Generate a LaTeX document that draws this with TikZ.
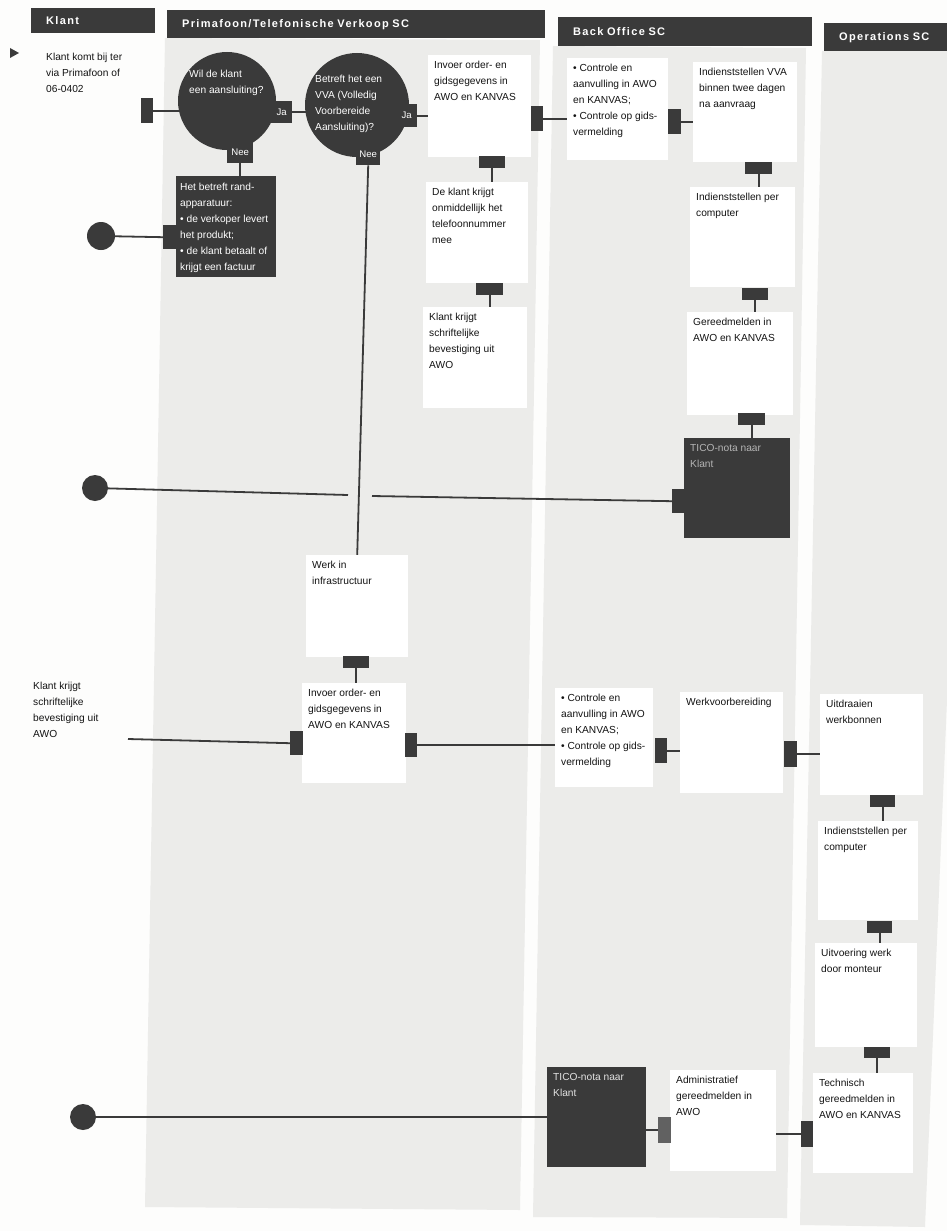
\documentclass[tikz,border=0pt]{standalone}
\usepackage{fontspec}
\setmainfont{Liberation Sans}
\newfontfamily\headfont[LetterSpace=12]{Liberation Sans}
\usetikzlibrary{calc}
\pgfdeclarelayer{wires}
\pgfsetlayers{wires,main}

\definecolor{ink}{HTML}{3A3A3A}
\definecolor{lane}{HTML}{ECECEA}
\definecolor{paper}{HTML}{FDFDFC}
\definecolor{txt}{HTML}{141414}
\definecolor{ghost}{HTML}{B4B4B4}
\definecolor{pale}{HTML}{E2E2E2}

% fixed-size text block: width, height, lines separated by \\
\newcommand{\cell}[3]{\vbox to #2pt{\hbox to #1pt{\begin{tabular}[t]{@{}l@{}}#3\end{tabular}\hss}\vss}}

\tikzset{
  base font/.style={font=\fontsize{10.2}{16}\selectfont},
  wbox/.style={base font, fill=white, text=txt, anchor=north west, inner xsep=6pt, inner ysep=2pt},
  dbox/.style={wbox, fill=ink, text=white, inner xsep=4pt, inner ysep=3pt},
  tico/.style={wbox, fill=ink, text=ghost},
  plain/.style={base font, text=txt, anchor=north west, inner sep=0pt},
  onink/.style={plain, text=white},
  tabv/.style={fill=ink, anchor=north west, inner sep=0pt, minimum width=12pt, minimum height=25pt},
  tabh/.style={fill=ink, anchor=north west, inner sep=0pt, minimum width=26pt, minimum height=12pt},
  flag/.style={fill=ink, anchor=north west, inner sep=0pt, text=white, font=\fontsize{9.6}{10}\selectfont},
  question/.style={circle, fill=ink, inner sep=0pt},
  terminal/.style={circle, fill=ink, inner sep=0pt, minimum size=26pt},
  wire/.style={draw=ink, line width=1.8pt},
  header/.style={fill=ink, text=white, anchor=north west, inner xsep=15pt, inner ysep=0pt,
    align=left, font=\headfont\bfseries\fontsize{11}{13}\selectfont},
}

\begin{document}
\begin{tikzpicture}[x=1pt,y=-1pt]
\useasboundingbox (0,0) rectangle (947,1231);

\begin{pgfonlayer}{wires}
  \fill[paper] (0,0) rectangle (947,1231);
  % swimlanes
  \fill[lane] (165,38) -- (540,40) -- (520,1210) -- (145,1207) -- cycle;
  \fill[lane] (553,46) -- (806,48) -- (787,1218) -- (533,1217) -- cycle;
  \fill[lane] (822,51) -- (947,51) -- (947,700) -- (925,1227) -- (800,1225) -- cycle;
\end{pgfonlayer}

% lane headers
\node[header, minimum width=124pt, minimum height=25pt, text width=94pt] (hK) at (31,8) {Klant};
\node[header, minimum width=378pt, minimum height=28pt, text width=348pt] (hP) at (167,10) {Primafoon/Telefonische Verkoop SC};
\node[header, minimum width=254pt, minimum height=29pt, text width=224pt] (hB) at (558,17) {Back Office SC};
\node[header, minimum width=123pt, minimum height=28pt, text width=93pt] (hO) at (824,23) {Operations SC};

% start
\fill[ink] (10,48) -- (19,53) -- (10,58) -- cycle;
\node[plain] (entry) at (46,48.8) {\cell{100}{50}{Klant komt bij ter\\via Primafoon of\\06-0402}};

% decisions
\node[question, minimum size=98pt] (q1) at (227,101) {};
\node[question, minimum size=104pt] (q2) at (357,105) {};
\node[onink] (q1t) at (189,65.8) {\cell{80}{40}{Wil de klant\\een aansluiting?}};
\node[onink] (q2t) at (315,70.8) {\cell{82}{70}{Betreft het een\\VVA (Volledig\\Voorbereide\\Aansluiting)?}};
\node[tabv] (in1) at (141,98) {};
\node[flag, minimum width=21pt, minimum height=22pt] (ja1) at (271,101) {Ja};
\node[flag, minimum width=26pt, minimum height=21pt] (nee1) at (227,142) {Nee};
\node[flag, minimum width=21pt, minimum height=23pt] (ja2) at (396,104) {Ja};
\node[flag, minimum width=24pt, minimum height=21pt] (nee2) at (356,144) {Nee};

% peripheral equipment
\node[dbox] (D1) at (176,176) {\cell{92}{95}{Het betreft rand-\\apparatuur:\\• de verkoper levert\\het produkt;\\• de klant betaalt of\\krijgt een factuur}};
\node[tabv, minimum width=14pt, minimum height=24pt] (D1l) at (163,225) {};
\node[terminal, minimum size=28pt] (e1) at (101,236) {};

% VVA path
\node[wbox] (B1) at (428,55) {\cell{91}{98}{Invoer order- en\\gidsgegevens in\\AWO en KANVAS}};
\node[tabh] (B1b) at (479,156) {};
\node[tabv] (B1r) at (531,106) {};
\node[wbox] (B2) at (426,182) {\cell{90}{97}{De klant krijgt\\onmiddellijk het\\telefoonnummer\\mee}};
\node[tabh, minimum width=27pt] (B2b) at (476,283) {};
\node[wbox] (B3) at (423,307) {\cell{92}{97}{Klant krijgt\\schriftelijke\\bevestiging uit\\AWO}};

\node[wbox] (BO1) at (567,58) {\cell{89}{98}{• Controle en\\aanvulling in AWO\\en KANVAS;\\• Controle op gids-\\vermelding}};
\node[tabv, minimum width=13pt] (BO1r) at (668,109) {};
\node[wbox] (BO2) at (693,62) {\cell{92}{96}{Indienststellen VVA\\binnen twee dagen\\na aanvraag}};
\node[tabh, minimum width=27pt] (BO2b) at (745,162) {};
\node[wbox] (BO3) at (690,187) {\cell{93}{96}{Indienststellen per\\computer}};
\node[tabh] (BO3b) at (742,288) {};
\node[wbox] (BO4) at (687,312) {\cell{94}{99}{Gereedmelden in\\AWO en KANVAS}};
\node[tabh, minimum width=27pt] (BO4b) at (738,413) {};
\node[tico] (T1) at (684,438) {\cell{94}{96}{TICO-nota naar\\Klant}};
\node[tabv, minimum width=13pt, minimum height=24pt] (T1l) at (672,489) {};
\node[terminal] (e2) at (95,488) {};
\coordinate (gapL) at (348,495);
\coordinate (gapR) at (372,496);

% infrastructure path
\node[wbox] (W1) at (306,555) {\cell{90}{98}{Werk in\\infrastructuur}};
\node[tabh] (W1b) at (343,656) {};
\node[wbox] (W2) at (302,683) {\cell{92}{96}{Invoer order- en\\gidsgegevens in\\AWO en KANVAS}};
\node[tabv, minimum width=13pt, minimum height=24pt] (W2l) at (290,731) {};
\node[tabv, minimum height=24pt] (W2r) at (405,733) {};
\node[plain] (note) at (33,677.8) {\cell{90}{64}{Klant krijgt\\schriftelijke\\bevestiging uit\\AWO}};
\coordinate (noteout) at (128,739);

\node[wbox] (BO5) at (555,688) {\cell{86}{95}{• Controle en\\aanvulling in AWO\\en KANVAS;\\• Controle op gids-\\vermelding}};
\node[tabv] (BO5r) at (655,738) {};
\node[wbox] (BO6) at (680,692) {\cell{91}{97}{Werkvoorbereiding}};
\node[tabv, minimum width=13pt, minimum height=26pt] (BO6r) at (784,741) {};
\node[wbox] (OP1) at (820,694) {\cell{91}{97}{Uitdraaien\\werkbonnen}};
\node[tabh, minimum width=25pt] (OP1b) at (870,795) {};
\node[wbox] (OP2) at (818,821) {\cell{88}{95}{Indienststellen per\\computer}};
\node[tabh, minimum width=25pt] (OP2b) at (867,921) {};
\node[wbox] (OP3) at (815,943) {\cell{90}{100}{Uitvoering werk\\door monteur}};
\node[tabh, minimum height=11pt] (OP3b) at (864,1047) {};
\node[wbox] (OP4) at (813,1073) {\cell{88}{96}{Technisch\\gereedmelden in\\AWO en KANVAS}};
\node[tabv, minimum height=26pt] (OP4l) at (801,1121) {};
\node[wbox] (AD1) at (670,1070) {\cell{94}{97}{Administratief\\gereedmelden in\\AWO}};
\node[tabv, minimum width=13pt, minimum height=26pt, fill=ink!80] (AD1l) at (658,1117) {};
\node[tico, text=pale] (T2) at (547,1067) {\cell{87}{96}{TICO-nota naar\\Klant}};
\node[terminal] (e3) at (83,1117) {};

% connectors
\begin{pgfonlayer}{wires}
  \draw[wire] (in1.east) -- (in1.east -| q1.center);
  \draw[wire] (ja1.east) -- (ja1.east -| q2.center);
  \draw[wire] (ja2.east) -- (ja2.east -| B1.west);
  \draw[wire] (nee1.south) -- (nee1.south |- D1.north);
  \draw[wire] (e1.center) -- (D1l.west);
  \draw[wire] (B1b.south) -- (B1b.south |- B2.north);
  \draw[wire] (B2b.south) -- (B2b.south |- B3.north);
  \draw[wire] (B1r.east) -- (B1r.east -| BO1.west);
  \draw[wire] (BO1r.east) -- (BO1r.east -| BO2.west);
  \draw[wire] (BO2b.south) -- (BO2b.south |- BO3.north);
  \draw[wire] (BO3b.south) -- (BO3b.south |- BO4.north);
  \draw[wire] (BO4b.south) -- (BO4b.south |- T1.north);
  \draw[wire] (e2.center) -- (gapL);
  \draw[wire] (gapR) -- (T1l.west);
  \draw[wire] (nee2.south) -- (W1.north);
  \draw[wire] (W1b.south) -- (W1b.south |- W2.north);
  \draw[wire] (noteout) -- (W2l.west);
  \draw[wire] (W2r.east) -- (W2r.east -| BO5.west);
  \draw[wire] (BO5r.east) -- (BO5r.east -| BO6.west);
  \draw[wire] (BO6r.east) -- (BO6r.east -| OP1.west);
  \draw[wire] (OP1b.south) -- (OP1b.south |- OP2.north);
  \draw[wire] (OP2b.south) -- (OP2b.south |- OP3.north);
  \draw[wire] (OP3b.south) -- (OP3b.south |- OP4.north);
  \draw[wire] (e3.center) -- (e3.center -| T2.west);
  \draw[wire] (T2.east |- AD1l.west) -- (AD1l.west);
  \draw[wire] (AD1.east |- OP4l.west) -- (OP4l.west);
\end{pgfonlayer}
\end{tikzpicture}
\end{document}
